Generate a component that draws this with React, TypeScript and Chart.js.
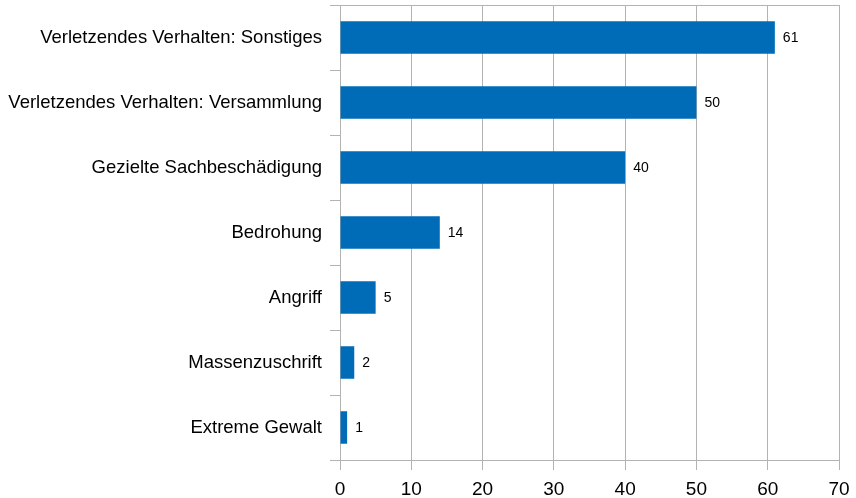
import React, { useEffect, useRef } from "react";
import { Chart, registerables } from "chart.js";

Chart.register(...registerables);

const categories = [
  "Verletzendes Verhalten: Sonstiges",
  "Verletzendes Verhalten: Versammlung",
  "Gezielte Sachbeschädigung",
  "Bedrohung",
  "Angriff",
  "Massenzuschrift",
  "Extreme Gewalt",
];
const values = [61, 50, 40, 14, 5, 2, 1];
const xTicks = [0, 10, 20, 30, 40, 50, 60, 70];

const FONT = "'Liberation Sans', Arial, sans-serif";
const GRID = "#b3b3b3";

const valueLabels = {
  id: "valueLabels",
  afterDatasetsDraw(chart: any) {
    const ctx = chart.ctx;
    const meta = chart.getDatasetMeta(0);
    ctx.save();
    ctx.font = `14px ${FONT}`;
    ctx.fillStyle = "#000";
    ctx.textAlign = "left";
    ctx.textBaseline = "middle";
    meta.data.forEach((el: any, i: number) => {
      ctx.fillText(String(values[i]), el.x + 8, el.y + 1);
    });
    ctx.restore();
  },
};

const topLine = {
  id: "topLine",
  beforeDatasetsDraw(chart: any) {
    const { ctx, chartArea } = chart;
    ctx.save();
    ctx.strokeStyle = GRID;
    ctx.lineWidth = 1;
    ctx.beginPath();
    ctx.moveTo(chartArea.left - 10, chartArea.top + 0.5);
    ctx.lineTo(chartArea.right, chartArea.top + 0.5);
    ctx.stroke();
    ctx.restore();
  },
};

export default function App() {
  const ref = useRef<HTMLCanvasElement | null>(null);
  useEffect(() => {
    if (!ref.current) return;
    const chart = new Chart(ref.current, {
      type: "bar",
      data: {
        labels: categories,
        datasets: [
          {
            data: values,
            backgroundColor: "#006cb8",
            categoryPercentage: 1,
            barPercentage: 0.5,
          },
        ],
      },
      options: {
        indexAxis: "y",
        animation: false,
        responsive: false,
        maintainAspectRatio: false,
        layout: { padding: { top: 5, right: 17, left: 0, bottom: 0 } },
        plugins: { legend: { display: false }, tooltip: { enabled: false } },
        scales: {
          x: {
            min: 0,
            max: 70,
            afterBuildTicks: (scale: any) => {
              scale.ticks = xTicks.map((v) => ({ value: v }));
            },
            afterFit: (scale: any) => {
              scale.height = 38;
              scale.paddingLeft = 0;
              scale.paddingRight = 0;
            },
            grid: {
              color: GRID,
              lineWidth: 1,
              tickLength: 10,
              drawOnChartArea: true,
            },
            border: { color: GRID, width: 1 },
            ticks: {
              color: "#000",
              font: { family: FONT, size: 19 },
              padding: 8,
              maxRotation: 0,
            },
          },
          y: {
            afterFit: (scale: any) => {
              scale.width = 340;
              scale.paddingTop = 0;
              scale.paddingBottom = 0;
            },
            grid: {
              offset: true,
              drawOnChartArea: false,
              color: GRID,
              tickLength: 10,
            },
            border: { color: GRID, width: 1 },
            ticks: {
              color: "#000",
              font: { family: FONT, size: 18.5 },
              padding: 8,
            },
          },
        },
      },
      plugins: [valueLabels, topLine],
    });
    return () => chart.destroy();
  }, []);
  return (
    <div style={{ position: "fixed", left: 0, top: 0, width: 856, height: 498, background: "#fff" }}>
      <canvas ref={ref} width={856} height={498} style={{ width: 856, height: 498 }} />
    </div>
  );
}
